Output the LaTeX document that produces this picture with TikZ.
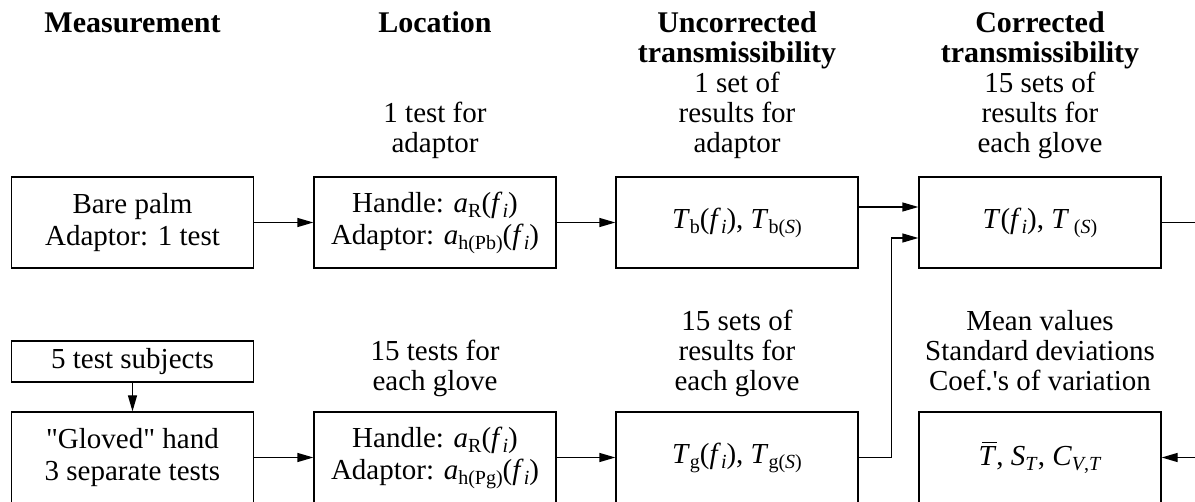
\documentclass[tikz,border=0pt]{standalone}
\usepackage{fontspec}
\setmainfont{Liberation Serif}[Ligatures=TeXOff]
\usetikzlibrary{arrows.meta,calc}
% subscript set smaller and lowered, italic variable names
\newcommand\Sb[1]{\raisebox{-0.17em}{\fontsize{20}{20}\selectfont #1}}
\newcommand\mv[1]{\textit{#1}}
% italic T with a bar over it (mean value)
\newcommand\barT{\mbox{\rlap{\hspace{0.12em}\rule[0.76em]{0.52em}{1.3pt}}\mv{T}}}
\begin{document}
\begin{tikzpicture}[x=1pt,y=-1pt,
  box/.style={draw, line width=1.3pt, minimum width=242pt, minimum height=91pt,
    align=center, inner sep=0pt, font=\fontsize{29}{32}\selectfont},
  smallbox/.style={box, minimum height=41pt},
  lbl/.style={anchor=base, inner sep=0pt, font=\fontsize{29}{30}\selectfont},
  head/.style={anchor=base, inner sep=0pt, font=\fontsize{30}{30}\selectfont\bfseries},
  wire/.style={line width=1.3pt},
  link/.style={wire, -{Triangle[length=16pt,width=9pt]}}]
\useasboundingbox (0,0) rectangle (1195,502);

% column headings
\node[head] (h1)  at (132.5,33) {Measurement};
\node[head] (h2)  at (435,33)   {Location};
\node[head] (h3a) at (737,33)   {Uncorrected};
\node[head] (h3b) at (737,63)   {transmissibility};
\node[head] (h4a) at (1040,33)  {Corrected};
\node[head] (h4b) at (1040,63)  {transmissibility};

% labels above the upper row
\node[lbl] (t2a) at (435,123) {1 test for};
\node[lbl] (t2b) at (435,153) {adaptor};
\node[lbl] (t3a) at (737,93)  {1 set of};
\node[lbl] (t3b) at (737,123) {results for};
\node[lbl] (t3c) at (737,153) {adaptor};
\node[lbl] (t4a) at (1040,93)  {15 sets of};
\node[lbl] (t4b) at (1040,123) {results for};
\node[lbl] (t4c) at (1040,153) {each glove};

% labels above the lower row
\node[lbl] (d2a) at (435,361) {15 tests for};
\node[lbl] (d2b) at (435,391) {each glove};
\node[lbl] (d3a) at (737,331) {15 sets of};
\node[lbl] (d3b) at (737,361) {results for};
\node[lbl] (d3c) at (737,391) {each glove};
\node[lbl] (d4a) at (1040,331) {Mean values};
\node[lbl] (d4b) at (1040,361) {Standard deviations};
\node[lbl] (d4c) at (1040,391) {Coef.'s of variation};

% upper row: bare palm
\node[box] (b1) at (132.5,222.5) {Bare palm\\Adaptor: 1 test};
\node[box] (l1) at (435,222.5)
  {Handle: \mv{a}\Sb{R}(\mv{f}\Sb{\mv{i}})\\Adaptor: \mv{a}\Sb{h(Pb)}(\mv{f}\Sb{\mv{i}})};
\node[box] (u1) at (737,222.5)
  {\mv{T}\Sb{b}(\mv{f}\Sb{\mv{i}}), \mv{T}\Sb{b(\mv{S})}};
\node[box] (c1) at (1040,222.5)
  {\mv{T}(\mv{f}\Sb{\mv{i}}), \mv{T}\,\Sb{(\mv{S})}};

% lower row: gloved hand
\node[smallbox] (s) at (132.5,361.5) {5 test subjects};
\node[box] (g)  at (132.5,457.5) {"Gloved" hand\\3 separate tests};
\node[box] (l2) at (435,457.5)
  {Handle: \mv{a}\Sb{R}(\mv{f}\Sb{\mv{i}})\\Adaptor: \mv{a}\Sb{h(Pg)}(\mv{f}\Sb{\mv{i}})};
\node[box] (u2) at (737,457.5)
  {\mv{T}\Sb{g}(\mv{f}\Sb{\mv{i}}), \mv{T}\Sb{g(\mv{S})}};
\node[box] (m)  at (1040,457.5)
  {\barT, \mv{S}\Sb{\mv{T}}, \mv{C}\Sb{\mv{V},\mv{T}}};

% free ends at the right border
\coordinate (outR) at (1195,222.5);
\coordinate (inR)  at (1195,457.5);

% connectors
\draw[link] (b1) -- (l1);
\draw[link] (l1) -- (u1);
\draw[link] ($(u1.east)+(0,-15.5)$) -- ($(c1.west)+(0,-15.5)$);
\draw[link] (u2.east) -- ++(33,0) |- ($(c1.west)+(0,15.5)$);
\draw[wire] (c1.east) -- (outR);
\draw[link] (s) -- (g);
\draw[link] (g) -- (l2);
\draw[link] (l2) -- (u2);
\draw[link] (inR) -- (m.east);
\end{tikzpicture}
\end{document}
